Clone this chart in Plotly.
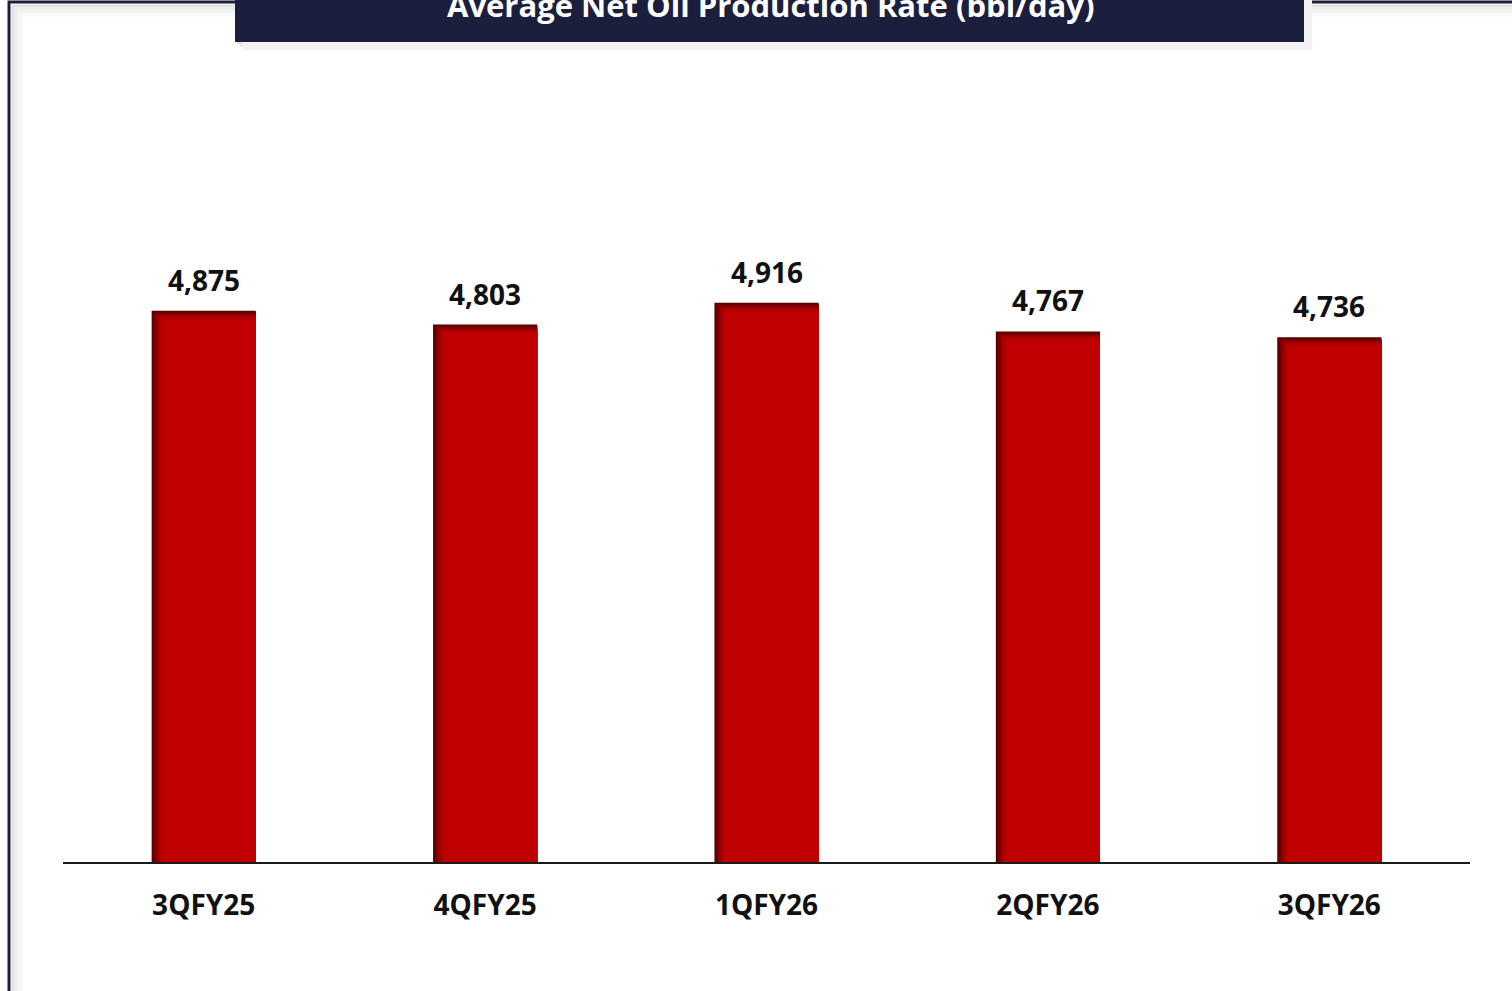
import plotly.graph_objects as go

categories = ["3QFY25", "4QFY25", "1QFY26", "2QFY26", "3QFY26"]
values = [4875, 4803, 4916, 4767, 4736]
value_labels = ["4,875", "4,803", "4,916", "4,767", "4,736"]
title_text = "Average Net Oil Production Rate (bbl/day)"

W, H = 1512, 991
L, R, T, B = 63, 42, 95, 129
PW, PH = W - L - R, H - T - B
Y0, Y1 = 2000, 6000

def px(x):
    return (x - L) / PW

def py(y):
    return (H - B - y) / PH

FONT = "Open Sans"
NAVY = "#1B1E3C"
bar_w = 0.37
cat_px = PW / len(categories)
unit_per_px = (Y1 - Y0) / PH
shades = ["#560000", "#620000", "#6e0000", "#7a0000", "#860000", "#920000",
          "#9c0000", "#a60000", "#ae0000", "#b50000", "#bb0000", "#c00000"]
n_layers = len(shades)

fig = go.Figure()
for k in range(n_layers):
    dx = k * 1.0 / cat_px
    dy = k * 0.8 * unit_per_px
    fig.add_trace(go.Bar(
        x=categories,
        y=[v - Y0 - dy for v in values],
        base=Y0,
        width=bar_w - dx,
        offset=-bar_w / 2 + dx,
        marker=dict(color=shades[k], line=dict(width=0)),
        hoverinfo="skip",
        showlegend=False,
    ))

for c, v, t in zip(categories, values, value_labels):
    fig.add_annotation(x=c, y=v, text=t, showarrow=False, yanchor="bottom", yshift=10,
                       font=dict(family=FONT, size=28, color="#111111", weight="bold"))

shapes = []
# frame shadow
for i, col in enumerate(["#e2e2e2", "#ececec", "#f4f4f4", "#f9f9f9"]):
    off = 4 + i * 3
    shapes.append(dict(type="rect", xref="paper", yref="paper",
                       x0=px(9 + off), x1=px(1540), y0=py(1020), y1=py(2 + off),
                       line=dict(color=col, width=3), fillcolor="rgba(0,0,0,0)", layer="below"))
shapes.append(dict(type="rect", xref="paper", yref="paper",
                   x0=px(9), x1=px(1540), y0=py(1020), y1=py(2),
                   line=dict(color=NAVY, width=3), fillcolor="rgba(0,0,0,0)", layer="below"))
# title box shadow
for i, col in enumerate(["#dcdcdc", "#e8e8e8", "#f2f2f2"]):
    o = 2 + i * 3
    shapes.append(dict(type="rect", xref="paper", yref="paper",
                       x0=px(235 + o), x1=px(1304 + o), y0=py(42 + o), y1=py(-10),
                       line=dict(width=0), fillcolor=col, layer="below"))
shapes.append(dict(type="rect", xref="paper", yref="paper",
                   x0=px(235), x1=px(1304), y0=py(42), y1=py(-10),
                   line=dict(width=0), fillcolor=NAVY, layer="above"))

fig.add_annotation(xref="paper", yref="paper", x=px(770), y=py(5), text=title_text,
                   showarrow=False, xanchor="center", yanchor="middle",
                   font=dict(family=FONT, size=31, color="white", weight="bold"))

fig.update_layout(
    width=W, height=H,
    margin=dict(l=L, r=R, t=T, b=B, pad=0),
    paper_bgcolor="white", plot_bgcolor="white",
    barmode="overlay",
    shapes=shapes,
    showlegend=False,
    xaxis=dict(showline=True, linecolor="#1a1a1a", linewidth=2, ticks="", showgrid=False,
               zeroline=False, ticklabelstandoff=17,
               tickfont=dict(family=FONT, size=28, color="#111111", weight="bold")),
    yaxis=dict(range=[Y0, Y1], visible=False, showgrid=False, zeroline=False),
)

fig.write_html("out.html", config={"displayModeBar": False},
               post_script="document.body.style.margin='0';document.body.style.overflow='hidden';")
